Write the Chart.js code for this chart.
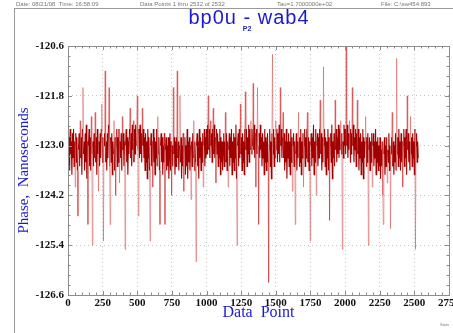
<!DOCTYPE html>
<html>
    <head>
        <title>bp0u - wab4</title>
        <style>
            body { margin: 0; background: #fff; }
            #wrap { position: relative; width: 453px; height: 333px; overflow: hidden; }
            #stocks { position: absolute; left: 0; top: 0; }
            .hdr { position: absolute; top: 1px; font: 6px "Liberation Sans", Arial, sans-serif; color: #777; white-space: nowrap; }
            .frame { position: absolute; background: #9a9a9a; }
            #title { position: absolute; left: 149px; width: 200px; top: 6px; text-align: center;
                     font: 20px "Liberation Sans", Arial, sans-serif; letter-spacing: 1px; color: #1a1ad2; }
            #sub { position: absolute; left: 227px; width: 40px; top: 25px; text-align: center;
                   font: bold 7px "Liberation Sans", Arial, sans-serif; color: #1a1ad2; }
        </style>
    </head>
    <body>
        <div id="wrap">
            <canvas id="stocks" width="453" height="333"></canvas>
            <div class="frame" style="left:14px;top:8px;width:1px;height:325px"></div>
            <div class="frame" style="left:14px;top:8px;width:439px;height:1px"></div>
            <div class="hdr" style="left:16px">Date: 08/21/08&nbsp;&nbsp;Time: 16:58:09</div>
            <div class="hdr" style="left:140px">Data Points 1 thru 2532 of 2532</div>
            <div class="hdr" style="left:277px">Tau=1.7000000e+02</div>
            <div class="hdr" style="left:381px">File: C:\sw454.893</div>
            <div id="title">bp0u - wab4</div>
            <div id="sub">P2</div>
            <div class="hdr" style="left:440px;top:322px;font-size:4px">Stats</div>
        </div>

    <script src="https://cdn.jsdelivr.net/npm/chart.js@4/dist/chart.umd.min.js"></script>

    <script>
        // one reading every STEP data points, phase in nanoseconds
        const STEP = 4;
        const PHASE = [
            -122.2, -123.4, -122.8, -123.6, -122.6, -123.2, -122.9, -123.7, -122.7, -123.3,
            -122.6, -123.5, -122.9, -124.0, -122.7, -123.4, -122.8, -123.6, -124.7, -123.1,
            -122.7, -123.5, -122.4, -123.3, -122.8, -123.7, -122.6, -121.6, -123.2, -122.9,
            -123.6, -122.7, -123.4, -122.5, -123.8, -122.9, -124.9, -123.0, -122.6, -123.5,
            -122.8, -123.6, -122.3, -123.2, -125.4, -122.9, -123.5, -122.7, -123.3, -122.2,
            -123.4, -122.8, -123.7, -122.6, -123.2, -124.1, -122.9, -123.5, -122.7, -123.3,
            -122.6, -122.0, -123.4, -122.8, -125.3, -123.0, -122.7, -121.2, -123.4, -122.9,
            -123.6, -122.7, -123.3, -122.5, -121.6, -123.5, -124.9, -122.8, -123.4, -122.7,
            -123.7, -122.9, -123.2, -122.4, -123.6, -122.8, -124.2, -123.0, -122.6, -123.5,
            -122.8, -123.4, -122.6, -123.9, -122.9, -123.3, -122.7, -123.6, -122.3, -123.1,
            -122.7, -123.5, -122.9, -125.5, -123.0, -122.6, -123.4, -122.8, -123.7, -122.9,
            -123.2, -122.6, -122.1, -123.3, -122.7, -123.5, -122.5, -123.1, -122.4, -123.4,
            -122.6, -123.2, -122.5, -123.0, -122.3, -121.8, -123.1, -124.7, -122.6, -123.3,
            -122.5, -123.2, -122.7, -123.4, -122.1, -123.0, -122.6, -123.3, -122.8, -123.6,
            -122.7, -123.4, -122.9, -123.8, -122.6, -123.3, -122.8, -123.6, -125.3, -123.0,
            -122.7, -123.5, -122.9, -124.0, -122.6, -123.4, -122.8, -123.7, -122.9, -123.3,
            -122.6, -123.5, -122.3, -123.2, -122.8, -123.6, -124.9, -123.0, -122.7, -123.4,
            -122.8, -123.7, -123.0, -123.4, -122.7, -124.9, -123.1, -122.8, -123.6, -123.0,
            -123.5, -122.8, -123.8, -123.1, -122.7, -123.6, -122.9, -124.2, -123.0, -123.5,
            -121.6, -123.2, -122.8, -123.7, -122.9, -123.5, -122.8, -121.2, -123.3, -122.9,
            -123.6, -123.0, -121.8, -123.4, -122.8, -123.8, -123.0, -123.5, -122.7, -124.1,
            -123.1, -122.8, -123.7, -123.0, -123.5, -122.6, -123.8, -122.9, -123.4, -122.8,
            -123.6, -123.0, -124.3, -122.9, -123.5, -122.7, -123.3, -122.4, -123.6, -122.9,
            -123.4, -125.8, -123.0, -122.7, -123.5, -122.9, -123.8, -122.6, -123.3, -122.8,
            -123.6, -122.9, -123.4, -122.7, -124.0, -123.0, -122.6, -123.5, -122.8, -123.3,
            -122.6, -123.2, -122.5, -121.8, -123.1, -122.6, -123.3, -122.4, -123.0, -122.7,
            -123.4, -122.6, -122.1, -123.2, -122.5, -123.3, -122.8, -123.9, -122.6, -123.2,
            -122.7, -123.5, -122.9, -123.3, -122.6, -123.7, -122.8, -123.4, -122.9, -123.6,
            -123.0, -122.7, -123.5, -122.9, -122.2, -123.4, -122.7, -123.6, -122.9, -124.0,
            -123.1, -122.7, -123.5, -122.8, -123.3, -122.6, -123.7, -122.9, -123.4, -122.7,
            -123.6, -122.8, -123.3, -122.5, -123.8, -125.4, -123.0, -122.7, -123.5, -122.6,
            -123.3, -122.0, -123.2, -122.8, -123.6, -122.7, -123.4, -122.9, -123.7, -122.6,
            -121.7, -123.1, -122.6, -123.5, -122.8, -123.2, -122.5, -123.4, -122.6, -123.1,
            -122.4, -123.2, -122.6, -123.0, -121.5, -123.1, -122.5, -123.3, -122.7, -124.0,
            -122.6, -123.2, -121.6, -123.0, -124.9, -122.7, -123.3, -122.5, -123.1, -122.8,
            -123.5, -122.7, -123.3, -122.9, -123.7, -122.6, -123.4, -122.8, -123.6, -123.0,
            -122.7, -123.4, -126.3, -123.1, -122.6, -123.5, -122.9, -123.8, -122.7, -120.8,
            -123.2, -122.6, -123.5, -122.8, -123.3, -122.4, -123.1, -122.6, -123.4, -122.7,
            -123.2, -122.5, -123.4, -121.6, -123.0, -122.6, -123.3, -122.8, -122.2, -123.3,
            -122.7, -123.6, -122.9, -123.4, -122.6, -123.8, -122.9, -123.3, -122.7, -123.5,
            -122.9, -123.7, -122.6, -123.4, -122.8, -124.1, -123.0, -122.7, -123.5, -122.9,
            -124.9, -123.2, -122.7, -123.6, -122.9, -123.3, -122.2, -123.5, -122.8, -123.4,
            -122.6, -123.7, -122.9, -123.3, -122.7, -124.0, -123.0, -122.6, -123.5, -122.8,
            -123.3, -122.6, -122.2, -123.4, -122.8, -123.6, -122.9, -125.3, -123.0, -122.7,
            -123.5, -122.8, -123.3, -122.5, -123.7, -122.9, -123.4, -122.6, -124.2, -123.0,
            -122.7, -123.5, -122.8, -123.3, -122.6, -121.9, -123.2, -122.7, -123.6, -122.8,
            -123.4, -121.1, -123.0, -122.6, -123.5, -122.8, -123.7, -122.9, -123.3, -122.6,
            -123.6, -122.8, -124.8, -123.0, -122.7, -123.4, -122.5, -123.8, -122.9, -123.3,
            -122.7, -123.5, -121.9, -123.1, -122.6, -123.4, -122.8, -123.2, -122.5, -123.3,
            -122.6, -123.1, -122.4, -123.2, -122.7, -125.5, -122.9, -123.3, -122.5, -123.0,
            -122.6, -123.2, -120.6, -123.0, -122.5, -123.3, -122.7, -123.1, -122.4, -123.4,
            -122.6, -123.2, -122.7, -121.6, -123.0, -122.5, -123.4, -122.8, -123.1, -122.6,
            -123.5, -122.7, -121.9, -123.2, -122.6, -123.6, -122.8, -123.3, -122.7, -123.7,
            -122.9, -123.4, -122.6, -123.8, -122.8, -123.3, -122.9, -122.3, -123.5, -122.8,
            -123.4, -122.7, -125.4, -123.1, -122.8, -123.6, -122.9, -123.4, -122.7, -124.0,
            -123.0, -122.7, -123.5, -122.9, -123.3, -122.6, -123.7, -122.9, -123.4, -122.8,
            -123.6, -123.0, -123.5, -122.8, -123.8, -123.1, -123.5, -122.9, -124.2, -124.9,
            -123.2, -122.8, -123.7, -123.0, -123.5, -122.8, -123.9, -123.1, -123.4, -122.7,
            -123.6, -123.0, -125.0, -123.2, -122.8, -122.2, -123.5, -122.9, -123.7, -123.0,
            -123.4, -122.7, -123.6, -120.9, -123.2, -122.8, -123.5, -122.6, -123.3, -122.9,
            -123.6, -122.7, -123.4, -122.9, -124.0, -123.0, -122.6, -123.5, -122.8, -123.3,
            -122.6, -123.7, -121.8, -123.1, -122.7, -123.4, -122.9, -123.6, -122.3, -123.2,
            -122.8, -123.5, -122.7, -123.3, -122.9, -123.7, -122.6, -125.5, -123.0, -122.7,
            -123.4, -122.9, -123.3
        ];
        const Y_TICKS = [-126.6, -125.4, -124.2, -123.0, -121.8, -120.6];
        const X_TICKS = [0, 250, 500, 750, 1000, 1250, 1500, 1750, 2000, 2250, 2500, 2750];

        const points = PHASE.map((v, i) => ({ x: i * STEP, y: v }));

        // dense middle of the trace is dark, the thin excursions show pale
        const inCore = v => v < -122.45 && v > -123.85;
        const isCore = ctx => inCore(ctx.p0.parsed.y) && inCore(ctx.p1.parsed.y);
        const segColor = ctx => isCore(ctx) ? '#a00000' : 'rgba(205,40,40,0.45)';
        const segWidth = ctx => isCore(ctx) ? 1.1 : 0.9;

        // plot box and small inward ticks, like the original plotter
        const boxTicks = {
            id: 'boxTicks',
            afterDatasetsDraw(chart) {
                const ctx = chart.ctx, a = chart.chartArea;
                const xs = chart.scales.x, ys = chart.scales.y;
                ctx.save();
                ctx.strokeStyle = '#8c8c8c';
                ctx.lineWidth = 1;
                ctx.beginPath();
                for (let v = 0; v <= 2750; v += 50) {
                    const px = Math.round(xs.getPixelForValue(v)) + 0.5;
                    const len = v % 250 === 0 ? 4 : 2.5;
                    ctx.moveTo(px, a.bottom); ctx.lineTo(px, a.bottom - len);
                    ctx.moveTo(px, a.top); ctx.lineTo(px, a.top + len);
                }
                for (let k = 0; k <= 25; k++) {
                    const py = Math.round(ys.getPixelForValue(-126.6 + k * 0.24)) + 0.5;
                    const len = k % 5 === 0 ? 4 : 2.5;
                    ctx.moveTo(a.left, py); ctx.lineTo(a.left + len, py);
                    ctx.moveTo(a.right, py); ctx.lineTo(a.right - len, py);
                }
                ctx.stroke();
                ctx.strokeRect(Math.round(a.left) + 0.5, Math.round(a.top) + 0.5,
                    Math.round(a.right - a.left), Math.round(a.bottom - a.top));
                ctx.restore();
            }
        };

        const serif = '"Liberation Serif", "Times New Roman", serif';
        const context = document.getElementById('stocks').getContext('2d');
        const chart = new Chart(context, {
            type: 'line',
            data: {
                datasets: [{
                    label: 'Phase',
                    data: points,
                    borderColor: '#a00000',
                    borderWidth: 1,
                    pointRadius: 0,
                    tension: 0,
                    segment: { borderColor: segColor, borderWidth: segWidth },
                }],
            },
            options: {
                responsive: false,
                animation: false,
                devicePixelRatio: 1,
                layout: { padding: { left: 14, right: 4, top: 46, bottom: 10 } },
                plugins: { legend: { display: false }, tooltip: { enabled: false } },
                scales: {
                    x: {
                        type: 'linear',
                        min: 0,
                        max: 2750,
                        afterBuildTicks: s => { s.ticks = X_TICKS.map(v => ({ value: v })); },
                        afterFit: s => { s.height = 28; s.paddingLeft = 0; s.paddingRight = 0; },
                        grid: { color: '#c4c4c4', drawTicks: false },
                        border: { display: false, dash: [1, 3] },
                        ticks: {
                            padding: 2,
                            maxRotation: 0,
                            autoSkip: false,
                            color: '#111',
                            callback: v => String(v),
                            font: { family: serif, size: 11, weight: 'bold' },
                        },
                        title: {
                            display: true,
                            text: 'Data  Point',
                            color: '#1a1ad2',
                            padding: { top: 0, bottom: 1 },
                            font: { family: serif, size: 16 },
                        },
                    },
                    y: {
                        min: -126.6,
                        max: -120.6,
                        afterBuildTicks: s => { s.ticks = Y_TICKS.map(v => ({ value: v })); },
                        afterFit: s => { s.width = 54; },
                        grid: { color: '#c4c4c4', drawTicks: false },
                        border: { display: false, dash: [1, 3] },
                        ticks: {
                            padding: 4,
                            color: '#111',
                            callback: v => v.toFixed(1),
                            font: { family: serif, size: 11, weight: 'bold' },
                        },
                        title: {
                            display: true,
                            text: 'Phase,  Nanoseconds',
                            color: '#1a1ad2',
                            padding: { top: 1, bottom: 0 },
                            font: { family: serif, size: 15 },
                        },
                    },
                },
            },
            plugins: [boxTicks],
        });
    </script>
    </body>
</html>
